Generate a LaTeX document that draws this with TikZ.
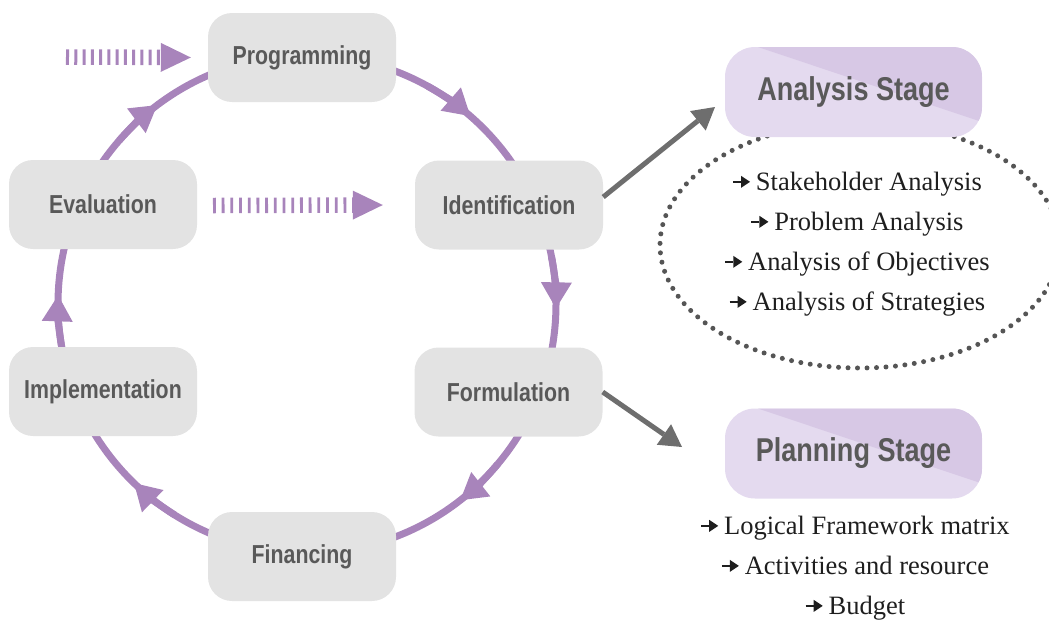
\documentclass[tikz,border=0pt]{standalone}
\usepackage{fontspec}
\setmainfont{Liberation Serif}
\newfontfamily\boxfont[FakeStretch=0.82]{Liberation Sans Bold}
\usetikzlibrary{arrows.meta}
\definecolor{cyclepurple}{HTML}{A884BB}
\definecolor{boxgray}{HTML}{E3E3E3}
\definecolor{labelgray}{HTML}{595959}
\definecolor{linkgray}{HTML}{6E6E6E}
\definecolor{dotgray}{HTML}{555555}
\definecolor{stagelight}{HTML}{E4DAEF}
\definecolor{stagedark}{HTML}{D7C8E5}
\definecolor{listblack}{HTML}{1E1E1E}
\newcommand{\itemarrow}{\tikz[baseline=-8.5pt]\draw[listblack,line width=1.8pt,-{Triangle[length=9pt,width=12pt,line width=0pt]}] (0pt,0pt) -- (17pt,0pt);\hspace{5pt}}
\tikzset{
    phase/.style={rounded corners=24pt,fill=boxgray,text=labelgray,
        minimum width=188pt,minimum height=89pt,
        font=\boxfont\fontsize{26}{26}\selectfont},
    stagebox/.style={rounded corners=30pt,fill=stagelight,text=labelgray,
        minimum width=257pt,minimum height=90pt,
        font=\boxfont\fontsize{33}{33}\selectfont,
        path picture={\fill[stagedark,sharp corners]
            ([xshift=33pt]path picture bounding box.north west)
            --(path picture bounding box.north east)
            --([yshift=15pt]path picture bounding box.south east)--cycle;}},
    itemlist/.style={align=center,text=listblack,font=\fontsize{26.5}{40}\selectfont},
    cycleline/.style={cyclepurple,line width=7pt},
    cyclehead/.style={-{Triangle[length=26pt,width=31pt,line width=0pt]}},
    feedarrow/.style={cyclepurple,line width=15.5pt,
        -{Triangle[length=30pt,width=29pt,line width=0pt]}},
    linkarrow/.style={linkgray,line width=5pt,
        -{Triangle[length=22pt,width=25pt,line width=0pt]}},
    dotring/.style={dotgray,line width=5pt,line cap=round,dash pattern=on 0pt off 9.5pt}
}
\begin{document}
\begin{tikzpicture}[x=1pt,y=1pt]
        \clip (0,0) rectangle (1049,-622);
            \draw[dotring] (860,-245) ellipse[x radius=200pt,y radius=123pt];
            \coordinate (hub) at (307,-304);
            \draw[cycleline] (hub) circle[radius=249pt];
            \foreach \a in {49,-1,-52,226,178,127}
                \draw[cycleline,cyclehead] (hub) ++(\a+12:249pt)
                    arc[start angle=\a+12,end angle=\a,radius=249pt];
            \node[phase] (prog)  at (302,-57.5)  {Programming};
            \node[phase] (ident) at (509,-205)   {Identification};
            \node[phase] (form)  at (508.5,-392) {Formulation};
            \node[phase] (fin)   at (302,-556.5) {Financing};
            \node[phase] (impl)  at (103,-391.5) {Implementation};
            \node[phase] (eval)  at (103,-204.5) {Evaluation};
            \node[stagebox] (analysis) at (853.5,-92)  {Analysis Stage};
            \node[stagebox] (planning) at (853.5,-453.5) {Planning Stage};
            \node[itemlist] (alist) at (857,-244)
                {\itemarrow Stakeholder Analysis\\ \itemarrow Problem Analysis\\
                 \itemarrow Analysis of Objectives\\ \itemarrow Analysis of Strategies};
            \node[itemlist] (plist) at (855,-568)
                {\itemarrow Logical Framework matrix\\ \itemarrow Activities and resource\\
                 \itemarrow Budget};
            \coordinate (atip) at (715,-107);
            \coordinate (ptip) at (682,-447);
            \draw[linkarrow] ([yshift=8pt]ident.east) -- (atip);
            \draw[linkarrow] (form.east) -- (ptip);
            \coordinate (feedtop) at (66,-57);
            \coordinate (feedmid) at (213,-205.5);
            \draw[feedarrow,dash pattern=on 3pt off 5.27pt] (feedtop) -- ([xshift=-17pt]prog.west);
            \draw[feedarrow,dash pattern=on 2.8pt off 5.9pt] (feedmid) -- ([xshift=-32pt]ident.west);
\end{tikzpicture}
\end{document}
